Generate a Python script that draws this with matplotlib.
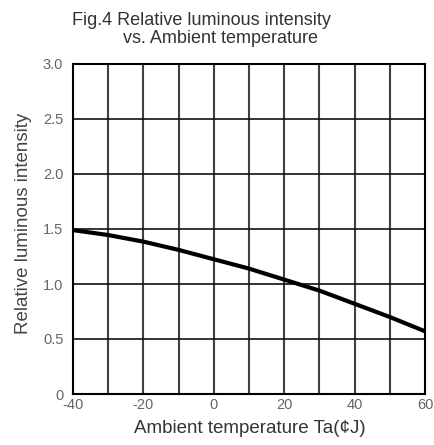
import matplotlib
matplotlib.use("Agg")
import matplotlib.pyplot as plt
import numpy as np

temperature = [-40, -30, -20, -10, 0, 10, 20, 30, 40, 50, 60]
rel_intensity = [1.49, 1.445, 1.385, 1.31, 1.225, 1.14, 1.04, 0.94, 0.82, 0.70, 0.57]
x_ticks = [-40, -20, 0, 20, 40, 60]
x_tick_labels = ["-40", "-20", "0", "20", "40", "60"]
y_ticks = [0, 0.5, 1.0, 1.5, 2.0, 2.5, 3.0]
y_tick_labels = ["0", "0.5", "1.0", "1.5", "2.0", "2.5", "3.0"]

plt.rcParams['font.family'] = ['Liberation Sans', 'DejaVu Sans']

W, H = 435, 445
fig = plt.figure(figsize=(W/100, H/100), dpi=100)
ax = fig.add_axes([73/W, 1 - 394/H, (425-73)/W, (394-64)/H])

ax.set_xlim(-40, 60)
ax.set_ylim(0, 3.0)
for xv in np.arange(-30, 60, 10):
    ax.axvline(xv, color='#404040', lw=1.5, zorder=1)
for yv in np.arange(0.5, 3.0, 0.5):
    ax.axhline(yv, color='#111111', lw=1.2, zorder=1)

ax.plot(temperature, rel_intensity, color='black', lw=3.0, solid_capstyle='butt', zorder=3)

ax.set_xticks(x_ticks)
ax.set_xticklabels(x_tick_labels)
ax.set_yticks(y_ticks)
ax.set_yticklabels(y_tick_labels)
ax.tick_params(axis='both', length=0, labelsize=10.5, labelcolor='#666666')
ax.tick_params(axis='x', pad=3)
ax.tick_params(axis='y', pad=7)
for s in ax.spines.values():
    s.set_linewidth(1.5)
    s.set_color('black')

fig.text(250/W, 1 - 433/H, "Ambient temperature Ta(¢J)", fontsize=13.5,
         color='#333333', ha='center', va='baseline')
fig.text(24/W, 1 - 223/H, "Relative luminous intensity", fontsize=13.5,
         color='#444444', ha='center', va='center', rotation=90)

fig.text(72/W, 1 - 25/H, "Fig.4 Relative luminous intensity", fontsize=13,
         color='#333333', ha='left', va='baseline')
fig.text(123/W, 1 - 43/H, "vs. Ambient temperature", fontsize=13,
         color='#333333', ha='left', va='baseline')

fig.savefig("out.png", dpi=100, facecolor='white')
